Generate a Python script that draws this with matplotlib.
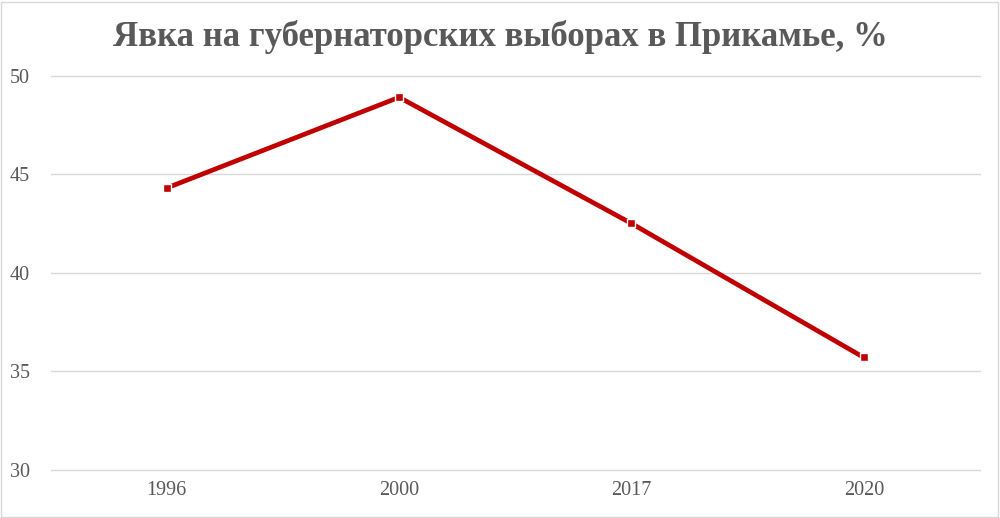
import matplotlib.pyplot as plt
from matplotlib.patches import Rectangle

# данные
years = ['1996', '2000', '2017', '2020']
turnout = [44.3, 48.9, 42.5, 35.7]
y_ticks = [30, 35, 40, 45, 50]

plt.rcParams['font.family'] = ['Liberation Serif', 'DejaVu Serif']

fig = plt.figure(figsize=(10, 5.18), dpi=100)
ax = fig.add_axes([0.0506, 0.093, 0.9294, 0.761])

x = range(len(years))
ax.plot(x, turnout, color='#C00000', linewidth=3.4, marker='s', markersize=6,
        markerfacecolor='#C00000', markeredgecolor='white', markeredgewidth=1,
        solid_capstyle='round', zorder=3)

ax.set_xlim(-0.5, len(years) - 0.5)
ax.set_ylim(30, 50)
ax.set_yticks(y_ticks)
ax.set_xticks(list(x))
ax.set_xticklabels(years)
ax.grid(axis='y', color='#D9D9D9', linewidth=1, clip_on=False)
for gl in ax.get_ygridlines():
    gl.set_clip_on(False)
ax.set_axisbelow(True)
for s in ax.spines.values():
    s.set_visible(False)
ax.tick_params(length=0, labelsize=14.5, colors='#595959', pad=8)
ax.tick_params(axis='y', pad=15)

fig.text(0.5, 0.928, 'Явка на губернаторских выборах в Прикамье, %',
         ha='center', va='center', fontsize=25, fontweight='bold', color='#595959')

# рамка вокруг диаграммы
fig.patches.append(Rectangle((0.001, 0.002), 0.997, 0.995, transform=fig.transFigure,
                             fill=False, edgecolor='#D9D9D9', linewidth=1))

fig.savefig('out.png', dpi=100)
